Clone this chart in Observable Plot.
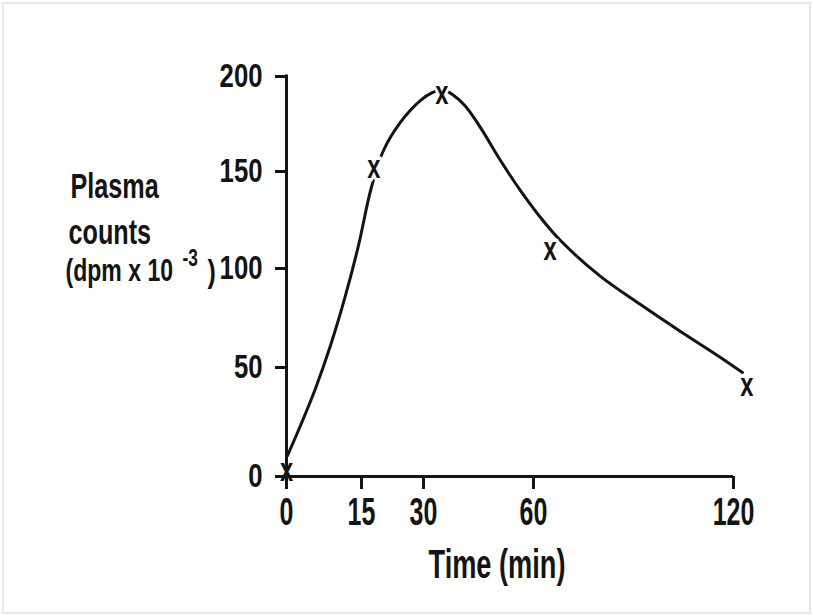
<!DOCTYPE html>
<html>
<head>
<meta charset="utf-8">
<script src="https://cdn.jsdelivr.net/npm/d3@7"></script>
<script src="https://cdn.jsdelivr.net/npm/@observablehq/plot@0.6"></script>
<style>
  html, body { margin: 0; padding: 0; background: #fff; }
  #chart svg { display: block; outline: 2px solid #e9e9e9; outline-offset: -4px; }
</style>
</head>
<body>
<div id="chart"></div>
<script>
// Axis ticks (the time axis is drawn piecewise, as on the original plot)
const timeTicks = [0, 15, 30, 60, 120];
const countTicks = [0, 50, 100, 150, 200];

// Measured samples: time (min) and plasma counts (dpm x 10^-3)
const sampleTime = [0, 18, 35, 65, 124];
const sampleCounts = [2, 151, 190, 109, 41];

// Hand-fitted curve through the samples
const curveTime = [0.2, 2.8, 5.8, 8.8, 11.8, 14.4, 17.2, 20.1, 24.4, 29.3, 32.5, 35.2, 37.9, 41.5, 45.5, 51, 56.5, 62.1, 68.1, 80.1, 92.1, 104.1, 116.1, 122.7];
const curveCounts = [9.6, 23.4, 40.4, 61.1, 86.4, 111.9, 140.2, 160, 175.8, 187.4, 191.6, 193.2, 190.5, 184.2, 173.2, 155.8, 140, 126.3, 114.4, 96, 81.8, 68.2, 55.1, 47.7];

const samples = sampleTime.map((t, i) => ({t, c: sampleCounts[i]}));
const curve = curveTime.map((t, i) => ({t, c: curveCounts[i]}));

const ink = "#141414";
const font = "'Liberation Sans', Arial, sans-serif";

const W = 813, H = 616;
const frameLeft = 286, frameRight = 733, frameTop = 76, frameBottom = 476;

// horizontal compression for each text size used below (the lettering of
// this figure is far narrower than the installed faces)
const squeezeBySize = {33: 0.78, 39: 0.64, 40: 0.68, 36: 0.70, 32: 0.72, 24: 0.72, 31: 0.8, 34: 0.7};

const chart = Plot.plot({
  width: W,
  height: H,
  marginLeft: frameLeft,
  marginRight: W - frameRight,
  marginTop: frameTop,
  marginBottom: H - frameBottom,
  style: {fontFamily: font, fontWeight: "bold", color: ink, background: "#fff"},
  x: {type: "linear", domain: timeTicks, range: [286, 361, 423, 533, 733], axis: null},
  y: {type: "linear", domain: countTicks, range: [476, 367, 268, 171, 76], axis: null},
  marks: [
    Plot.line(curve, {x: "t", y: "c", curve: "catmull-rom", stroke: ink, strokeWidth: 3}),
    // white halo behind each sample marker leaves a small gap in the curve
    Plot.text(samples, {x: "t", y: "c", text: () => "x", fontSize: 34, dy: -2, fill: "#fff", stroke: "#fff", strokeWidth: 7}),
    Plot.ruleX([0], {y1: 0, y2: 200, stroke: ink, strokeWidth: 3, strokeLinecap: "square"}),
    Plot.ruleY([0], {x1: 0, x2: 120, stroke: ink, strokeWidth: 3}),
    Plot.axisY(countTicks, {anchor: "left", tickSize: 11, tickPadding: 13, fontSize: 33, strokeWidth: 3, color: ink, label: null}),
    Plot.axisX(timeTicks, {anchor: "bottom", tickSize: 13, tickPadding: 8, fontSize: 39, strokeWidth: 3, color: ink, label: null}),
    Plot.text(samples, {x: "t", y: "c", text: () => "x", fontSize: 34, dy: -2, fill: ink}),
    // axis titles
    Plot.text(["Time (min)"], {frameAnchor: "bottom", dx: -13, dy: 101, lineAnchor: "bottom", fontSize: 40, fill: ink}),
    Plot.text(["Plasma"], {frameAnchor: "top-left", textAnchor: "start", lineAnchor: "bottom", dx: -216, dy: 121, fontSize: 36, fill: ink}),
    Plot.text(["counts"], {frameAnchor: "top-left", textAnchor: "start", lineAnchor: "bottom", dx: -218, dy: 167, fontSize: 36, fill: ink}),
    Plot.text(["(dpm x 10"], {frameAnchor: "top-left", textAnchor: "start", lineAnchor: "bottom", dx: -221, dy: 204, fontSize: 32, fill: ink}),
    Plot.text(["-3"], {frameAnchor: "top-left", textAnchor: "start", lineAnchor: "bottom", dx: -104, dy: 189, fontSize: 24, fill: ink}),
    Plot.text([")"], {frameAnchor: "top-left", textAnchor: "start", lineAnchor: "bottom", dx: -79, dy: 205, fontSize: 31, fill: ink})
  ]
});

document.getElementById("chart").append(chart);

// compress each text horizontally about its own anchor point
chart.querySelectorAll("text").forEach((el) => {
  const size = Math.round(parseFloat(getComputedStyle(el).fontSize));
  const k = squeezeBySize[size];
  if (!k) return;
  const tr = el.getAttribute("transform") || "";
  const x = parseFloat(el.getAttribute("x")) || 0;
  const y = parseFloat(el.getAttribute("y")) || 0;
  el.setAttribute("transform", `${tr} translate(${x},${y}) scale(${k},1) translate(${-x},${-y})`.trim());
});
</script>
</body>
</html>
